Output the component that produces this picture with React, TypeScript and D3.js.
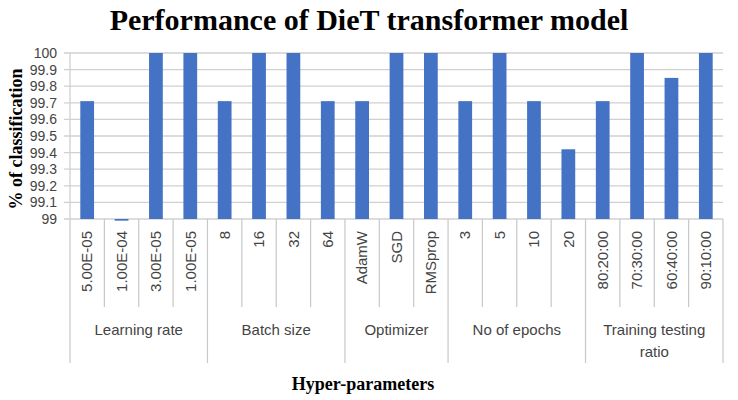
import React from "react"
import * as d3 from "d3"

const categories = [
  "5.00E-05", "1.00E-04", "3.00E-05", "1.00E-05",
  "8", "16", "32", "64",
  "AdamW", "SGD", "RMSprop",
  "3", "5", "10", "20",
  "80:20:00", "70:30:00", "60:40:00", "90:10:00",
]
const accuracy = [
  99.71, 98.99, 100, 100,
  99.71, 100, 100, 99.71,
  99.71, 100, 100,
  99.71, 100, 99.71, 99.42,
  99.71, 100, 99.85, 100,
]
const groups = [
  { name: ["Learning rate"], size: 4 },
  { name: ["Batch size"], size: 4 },
  { name: ["Optimizer"], size: 3 },
  { name: ["No of epochs"], size: 4 },
  { name: ["Training testing", "ratio"], size: 4 },
]
const yTicks = [99, 99.1, 99.2, 99.3, 99.4, 99.5, 99.6, 99.7, 99.8, 99.9, 100]

const W = 738
const H = 400
const left = 70
const right = 723
const top = 53
const bottom = 219
const sans = "'Liberation Sans', Arial, sans-serif"
const serif = "'Liberation Serif', 'Times New Roman', serif"

export default function App() {
  const cell = d3
    .scaleBand<number>()
    .domain(d3.range(categories.length))
    .range([left, right])
  const y = d3.scaleLinear().domain([99, 100]).range([bottom, top])
  const step = cell.bandwidth()

  // group boundaries (cumulative category counts)
  const bounds = [0, ...d3.cumsum(groups.map(g => g.size))]
  const boundSet = new Set(bounds)

  return (
    <svg width={W} height={H} style={{ position: "absolute", left: 0, top: 0, background: "#fff" }}>
      <text x={W / 2} y={30} textAnchor="middle" fontFamily={serif} fontWeight="bold" fontSize={30}>
        Performance of DieT transformer model
      </text>

      {/* value gridlines */}
      <g stroke="#d0d0d0" strokeWidth={1.3}>
        {yTicks.map(t => (
          <line key={t} x1={left - 6} x2={right} y1={y(t)} y2={y(t)} />
        ))}
        <line x1={left} x2={left} y1={top} y2={bottom} />
      </g>
      <g fontFamily={sans} fontSize={14} fill="#444" textAnchor="end">
        {yTicks.map(t => (
          <text key={t} x={left - 13} y={y(t)} dy="0.35em">
            {d3.format("")(+t.toFixed(1))}
          </text>
        ))}
      </g>
      <text
        transform={`translate(22,139) rotate(-90)`}
        textAnchor="middle"
        fontFamily={serif}
        fontWeight="bold"
        fontSize={18}
      >
        % of classification
      </text>

      {/* bars; values below the axis minimum hang just under it */}
      <g fill="#4472C4">
        {accuracy.map((v, i) => {
          const y0 = y(99)
          const y1 = y(v)
          return (
            <rect
              key={i}
              x={cell(i)! + step * 0.3}
              width={step * 0.4}
              y={Math.min(y0, y1)}
              height={Math.max(Math.abs(y0 - y1), 1)}
            />
          )
        })}
      </g>

      {/* category separators; group edges run further down */}
      <g stroke="#c8c8c8" strokeWidth={1.2}>
        {d3.range(categories.length + 1).map(i => (
          <line
            key={i}
            x1={left + i * step}
            x2={left + i * step}
            y1={bottom}
            y2={boundSet.has(i) ? 363 : 307}
          />
        ))}
      </g>
      <g fontFamily={sans} fontSize={15} fill="#444" textAnchor="end">
        {categories.map((c, i) => (
          <text
            key={c + i}
            transform={`translate(${cell(i)! + step / 2},231) rotate(-90)`}
            dy="0.35em"
          >
            {c}
          </text>
        ))}
      </g>
      <g fontFamily={sans} fontSize={15} fill="#444" textAnchor="middle">
        {groups.map((g, gi) => {
          const cx = left + ((bounds[gi] + bounds[gi + 1]) / 2) * step
          return (
            <text key={gi} x={cx} y={335}>
              {g.name.map((line, li) => (
                <tspan key={li} x={cx} dy={li === 0 ? 0 : 22}>
                  {line}
                </tspan>
              ))}
            </text>
          )
        })}
      </g>

      <text x={363} y={390} textAnchor="middle" fontFamily={serif} fontWeight="bold" fontSize={18}>
        Hyper-parameters
      </text>
    </svg>
  )
}
